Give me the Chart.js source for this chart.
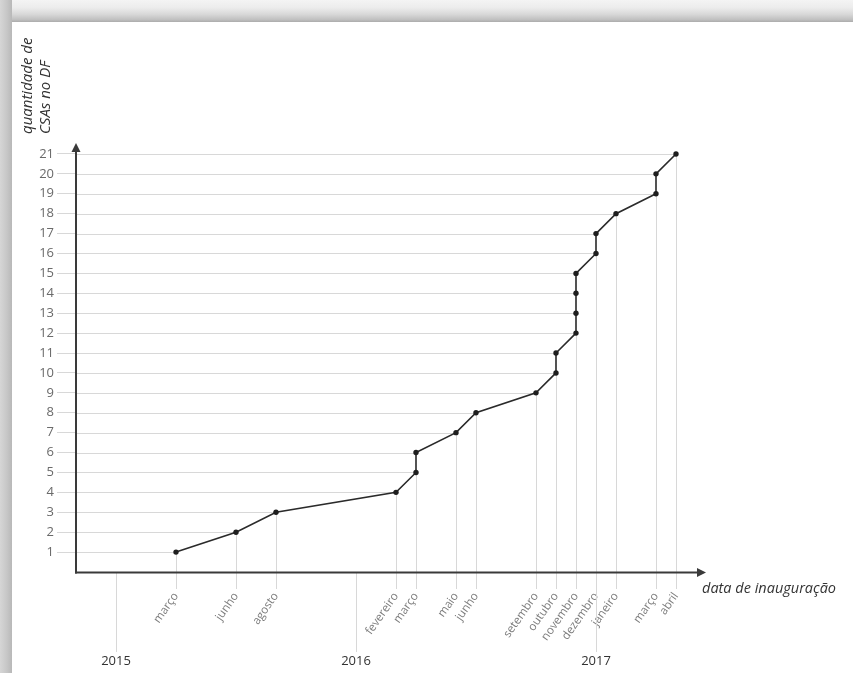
<!DOCTYPE html>
<html><head><meta charset="utf-8">
<script src="https://cdn.jsdelivr.net/npm/chart.js@4.4.0/dist/chart.umd.min.js"></script>
<style>
html,body{margin:0;padding:0;background:#fff;overflow:hidden}
#wrap{position:relative;width:853px;height:673px;background:#fff}
#top{position:absolute;left:0;top:0;width:853px;height:22px;background:linear-gradient(to bottom,#f4f4f4 0%,#ececec 35%,#d8d8d8 65%,#bfbfbf 90%,#ababab 100%)}
#left{position:absolute;left:0;top:0;width:12px;height:673px;background:linear-gradient(to right,#d6d6d6 0%,#c6c6c6 60%,#b8b8b8 100%)}
canvas{position:absolute;left:0;top:0}
</style></head>
<body><div id="wrap"><div id="top"></div><div id="left"></div><canvas id="c" width="853" height="673"></canvas></div>
<script>
// month labels (x categories), their position in months counted from the start of 2015
const monthLabels = ['março','junho','agosto','fevereiro','março','maio','junho','setembro','outubro','novembro','dezembro','janeiro','março','abril'];
const monthPos    = [3, 6, 8, 14, 15, 17, 18, 21, 22, 23, 24, 25, 27, 28];
// cumulative number of CSAs inaugurated in each month
const csaCounts   = [[1],[2],[3],[4],[5,6],[7],[8],[9],[10,11],[12,13,14,15],[16,17],[18],[19,20],[21]];
const yearLabels  = ['2015','2016','2017'];
const yearPos     = [0, 12, 24];
const yTicks      = [1,2,3,4,5,6,7,8,9,10,11,12,13,14,15,16,17,18,19,20,21];
const yTitle      = ['quantidade de','CSAs no DF'];
const xTitle      = 'data de inauguração';

const points = [];
monthPos.forEach((m, i) => csaCounts[i].forEach(c => points.push({x: m, y: c})));

const GRID = '#d8d8d8';
const AXIS = '#3a3a3a';

const guides = {
  id: 'guides',
  beforeDatasetsDraw(chart) {
    const {ctx, chartArea, scales: {x, y, x2}} = chart;
    ctx.save();
    ctx.strokeStyle = GRID; ctx.lineWidth = 1;
    monthPos.forEach((m, i) => csaCounts[i].forEach(c => {
      const py = Math.round(y.getPixelForValue(c)) + 0.5;
      ctx.beginPath(); ctx.moveTo(chartArea.left, py); ctx.lineTo(x.getPixelForValue(m), py); ctx.stroke();
    }));
    monthPos.forEach((m, i) => {
      const px = Math.round(x.getPixelForValue(m)) + 0.5;
      const py = y.getPixelForValue(Math.min(...csaCounts[i]));
      ctx.beginPath(); ctx.moveTo(px, py); ctx.lineTo(px, chartArea.bottom); ctx.stroke();
    });
    yearPos.forEach(v => {
      const px = Math.round(x2.getPixelForValue(v)) + 0.5;
      ctx.beginPath(); ctx.moveTo(px, chartArea.bottom); ctx.lineTo(px, x2.top + 11); ctx.stroke();
    });
    ctx.restore();
  },
  afterDatasetsDraw(chart) {
    const {ctx, chartArea} = chart;
    const L = chartArea.left, B = chartArea.bottom + 0.5, T = chartArea.top, R = chartArea.right;
    ctx.save();
    ctx.strokeStyle = AXIS; ctx.fillStyle = AXIS; ctx.lineWidth = 2;
    ctx.beginPath(); ctx.moveTo(L, B + 1); ctx.lineTo(L, T + 7); ctx.stroke();
    ctx.beginPath(); ctx.moveTo(L - 1, B); ctx.lineTo(R - 7, B); ctx.stroke();
    ctx.beginPath(); ctx.moveTo(L, T); ctx.lineTo(L - 4.5, T + 9); ctx.lineTo(L + 4.5, T + 9); ctx.closePath(); ctx.fill();
    ctx.beginPath(); ctx.moveTo(R, B); ctx.lineTo(R - 9, B - 4.5); ctx.lineTo(R - 9, B + 4.5); ctx.closePath(); ctx.fill();
    // titles
    ctx.fillStyle = '#333';
    ctx.font = 'italic 14.5px "Open Sans"';
    ctx.textBaseline = 'middle';
    ctx.textAlign = 'left';
    ctx.fillText(xTitle, R - 4, B + 16);
    ctx.save();
    ctx.font = 'italic 15px "Open Sans"';
    ctx.translate(28, 134);
    ctx.rotate(-Math.PI / 2);
    ctx.fillText(yTitle[0], 0, 0);
    ctx.fillText(yTitle[1], 0, 18);
    ctx.restore();
    ctx.restore();
  }
};

new Chart(document.getElementById('c'), {
  type: 'line',
  data: {datasets: [{
    data: points, borderColor: '#2a2a2a', borderWidth: 1.6,
    pointRadius: 2.7, pointBackgroundColor: '#1e1e1e', pointBorderWidth: 0,
    tension: 0, fill: false
  }]},
  options: {
    responsive: false, animation: false,
    layout: {padding: {left: 0, top: 143, right: 147, bottom: 0}},
    plugins: {legend: {display: false}, tooltip: {enabled: false}},
    scales: {
      x: {
        type: 'linear', min: -2, max: 29.5, position: 'bottom', weight: 0,
        afterBuildTicks: s => { s.ticks = monthPos.map(v => ({value: v})); },
        afterFit: s => { s.height = 69; },
        ticks: {autoSkip: false, minRotation: 55, maxRotation: 55, padding: 1, color: '#7c7c7c',
                font: {family: 'Open Sans', size: 11.5}, callback: (v, i) => monthLabels[i]},
        grid: {drawOnChartArea: false, drawTicks: true, tickLength: 17, color: GRID, lineWidth: 1},
        border: {display: false}
      },
      x2: {
        type: 'linear', min: -2, max: 29.5, position: 'bottom', weight: 1,
        afterBuildTicks: s => { s.ticks = yearPos.map(v => ({value: v})); },
        afterFit: s => { s.height = 32; },
        ticks: {autoSkip: false, maxRotation: 0, minRotation: 0, padding: 4, color: '#333',
                font: {family: 'Open Sans', size: 13}, callback: (v, i) => yearLabels[i]},
        grid: {display: false}, border: {display: false}
      },
      y: {
        type: 'linear', min: 0, max: 21.55,
        afterBuildTicks: s => { s.ticks = yTicks.map(v => ({value: v})); },
        afterFit: s => { s.width = 76; },
        ticks: {padding: 3, color: '#6a6a6a', font: {family: 'Open Sans', size: 13}},
        grid: {drawOnChartArea: false, drawTicks: true, tickLength: 19, color: GRID},
        border: {display: false}
      }
    }
  },
  plugins: [guides]
});
</script>
</body></html>
